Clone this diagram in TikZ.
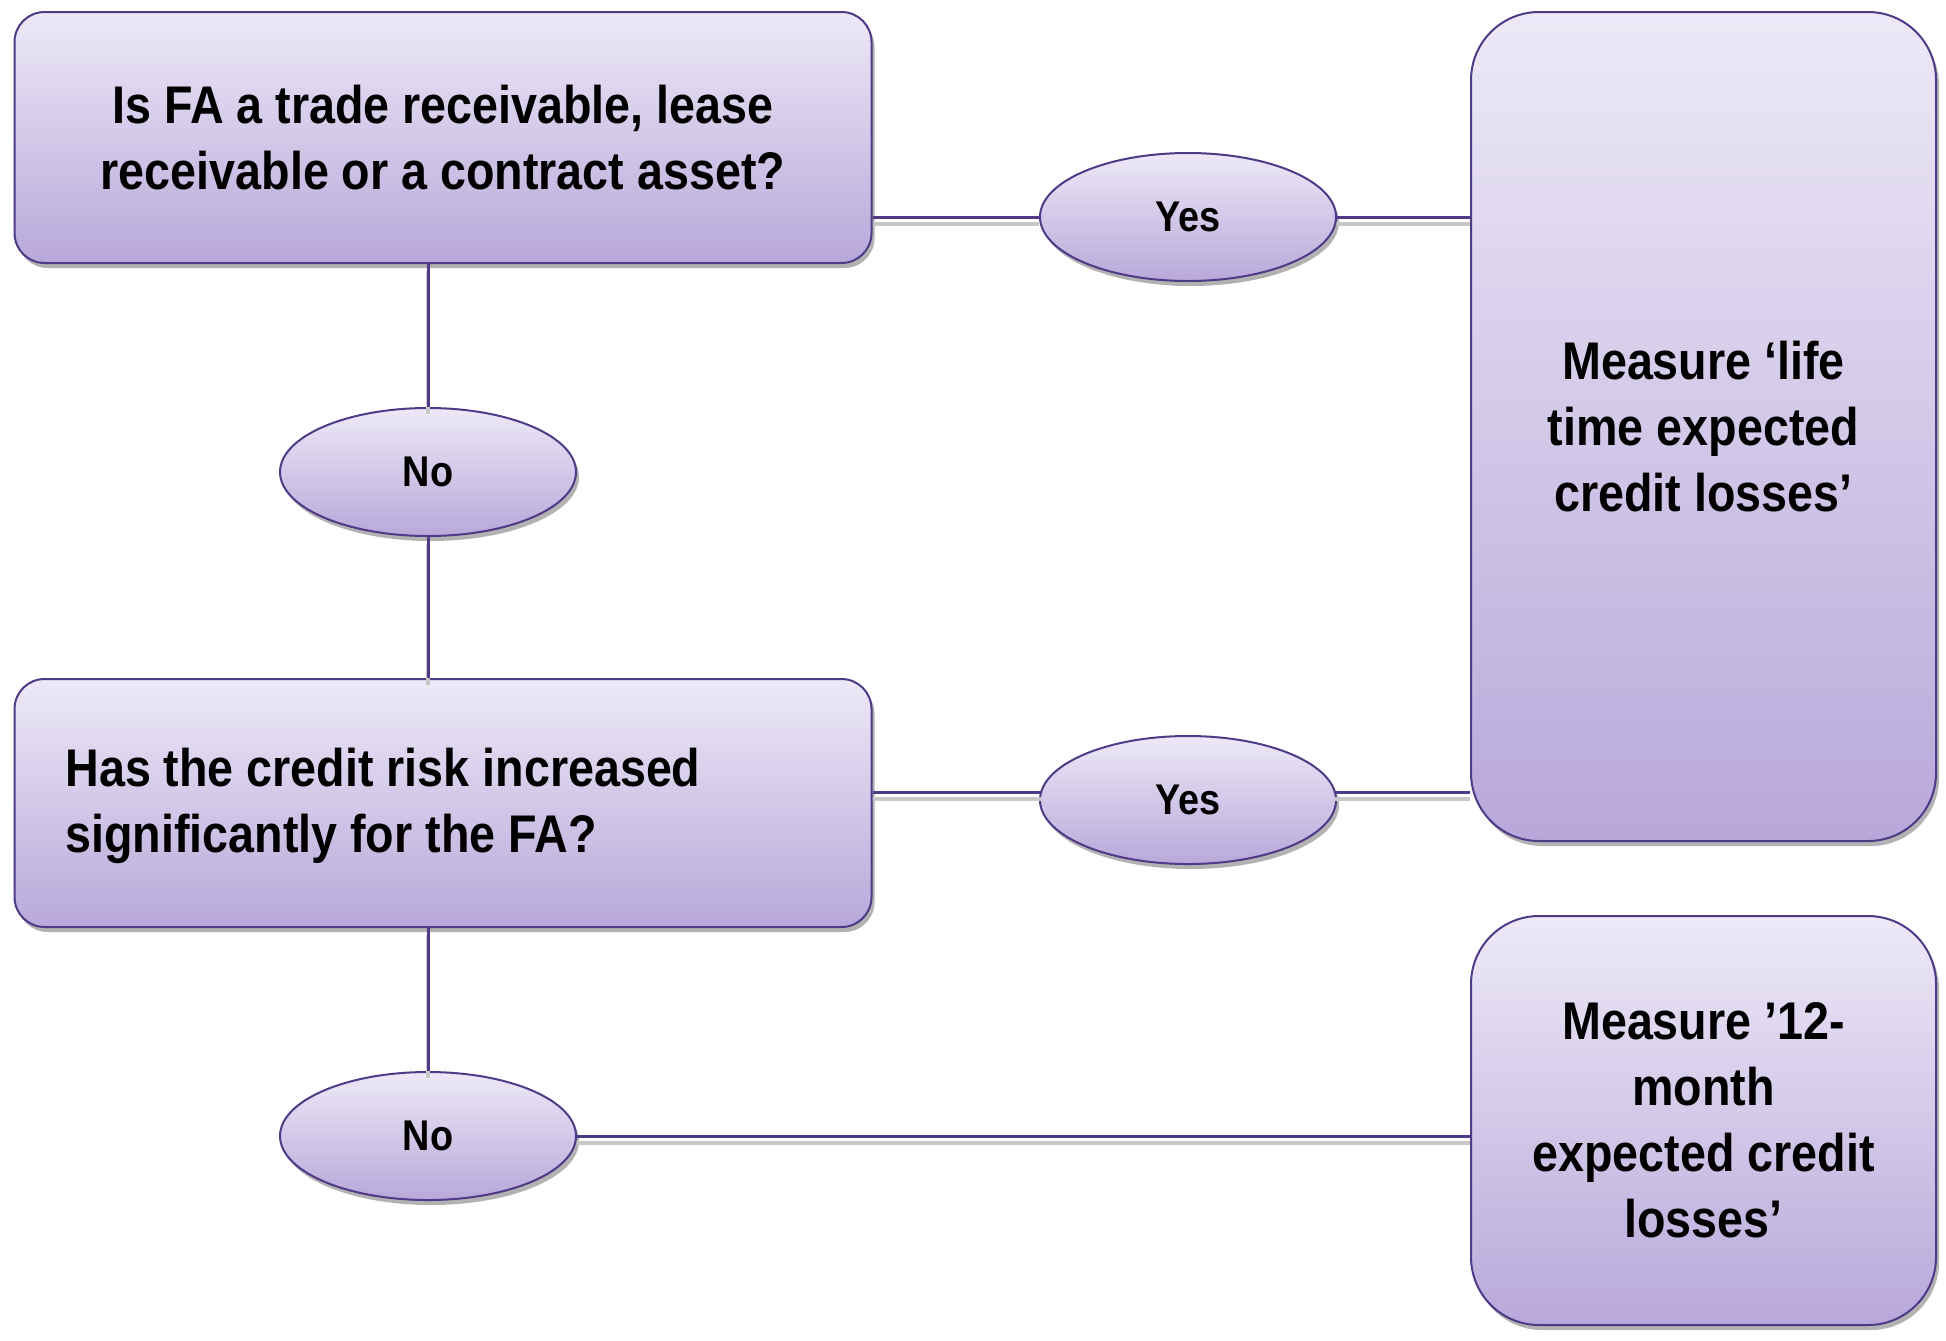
\documentclass[tikz,border=0pt]{standalone}
\usepackage{fontspec}
\setmainfont{Liberation Sans}[FakeStretch=0.88]
\usetikzlibrary{shapes.geometric,shadows}
\definecolor{lineC}{HTML}{4E3A86}
\definecolor{topC}{HTML}{EDE9F7}
\definecolor{botC}{HTML}{B8A8DA}
\tikzset{
  pshadow/.style={drop shadow={shadow xshift=1.5pt,shadow yshift=-2.5pt,fill=black,opacity=0.3}},
  qbox/.style={draw=lineC,line width=1pt,top color=topC,bottom color=botC,pshadow,
    font=\fontsize{26.5}{33}\selectfont\bfseries,inner sep=0pt},
  ans/.style={ellipse,draw=lineC,line width=1pt,top color=topC,bottom color=botC,pshadow,
    minimum width=148pt,minimum height=64pt,inner sep=0pt,font=\fontsize{21.5}{24}\selectfont\bfseries},
  conn/.style={draw=lineC,line width=1.5pt,
    preaction={draw=black!22,line width=2pt,transform canvas={yshift=-3.5pt}}}
}
\begin{document}
\begin{tikzpicture}[x=0.5pt,y=-0.5pt]
\useasboundingbox (0,0) rectangle (1946,1340);
% boxes
\node[qbox,rounded corners=15pt,minimum width=428.5pt,minimum height=125.5pt,align=center] (q1) at (443,137.5)
  {Is FA a trade receivable, lease\\receivable or a contract asset?};
\node[qbox,rounded corners=15pt,minimum width=428.5pt,minimum height=124pt] (q2) at (443,803) {};
\node[font=\fontsize{26.5}{33}\selectfont\bfseries,align=left,anchor=west,inner sep=0pt] (q2t) at (65,806)
  {Has the credit risk increased\\significantly for the FA?};
\node[qbox,rounded corners=34pt,minimum width=232.5pt,minimum height=414.5pt,align=center] (life) at (1703.5,426.5)
  {Measure `life\\time expected\\credit losses'};
\node[qbox,rounded corners=34pt,minimum width=232.5pt,minimum height=204.5pt,align=center] (twelve) at (1703.5,1120.5)
  {Measure '12-\\month\\expected credit\\losses'};
% answers
\node[ans] (yes1) at (1188,217) {Yes};
\node[ans] (no1) at (428,472) {No};
\node[ans] (yes2) at (1188,800) {Yes};
\node[ans] (no2) at (428,1136) {No};
\coordinate (y2l) at (1042,792);
\coordinate (y2r) at (1334,792);
% connectors
\path[conn] (q1.east |- yes1.west) -- (yes1.west);
\path[conn] (yes1.east) -- (yes1.east -| life.west);
\path[conn] (q1.south -| no1.north) -- (no1.north);
\path[conn] (no1.south) -- (no1.south |- q2.north);
\path[conn] (q2.east |- y2l) -- (y2l);
\path[conn] (y2r) -- (y2r -| life.west);
\path[conn] (q2.south -| no2.north) -- (no2.north);
\path[conn] (no2.east) -- (no2.east -| twelve.west);
\end{tikzpicture}
\end{document}
